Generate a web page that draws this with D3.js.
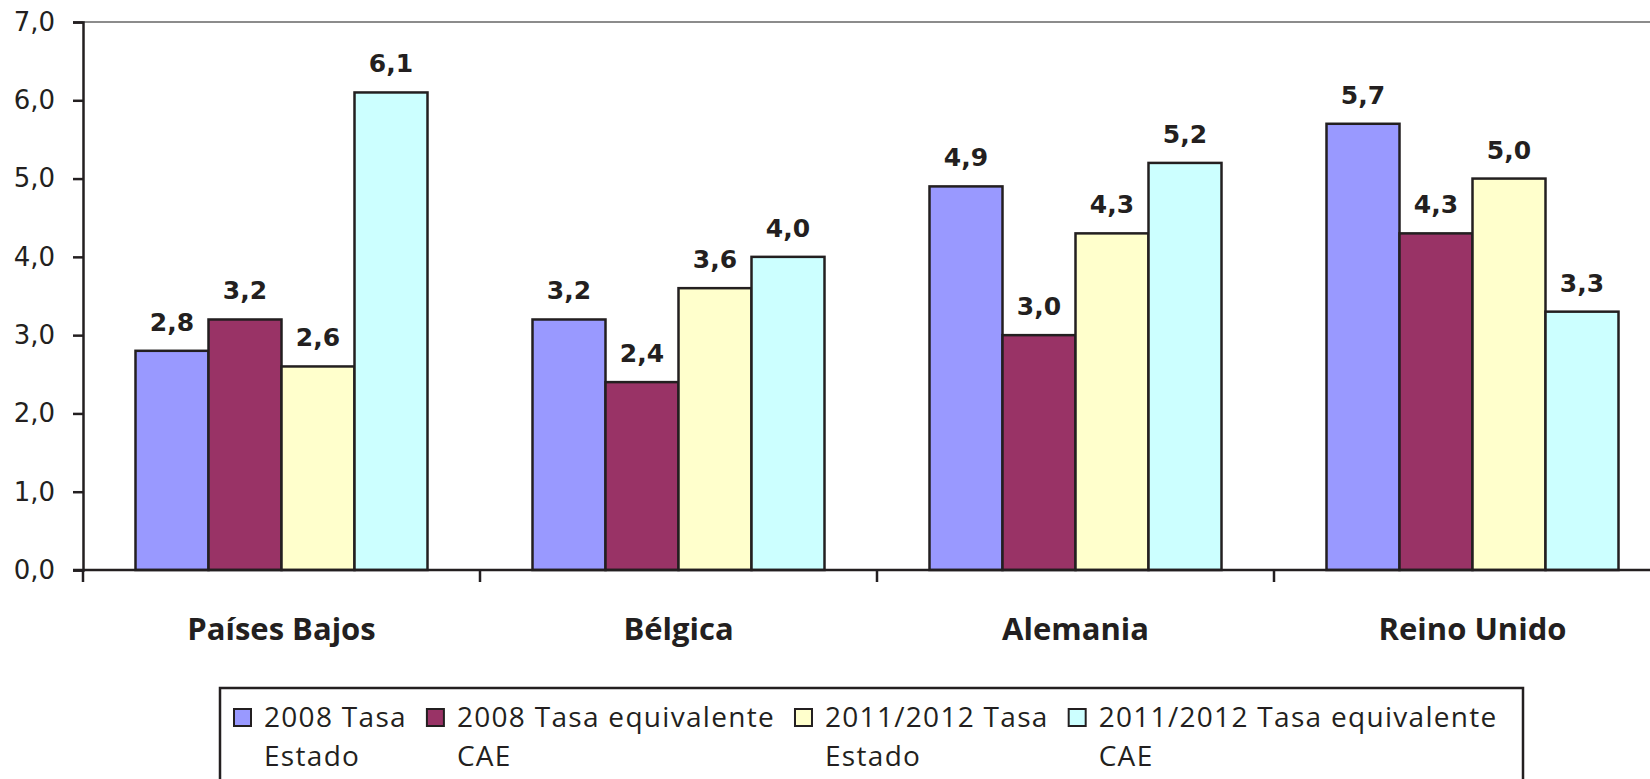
<!DOCTYPE html>
<html>
<head>
    <meta charset="UTF-8">
    <title>Tasas por país</title>
    <script src="https://d3js.org/d3.v7.min.js"></script>
    <style>
      body { margin: 0; background: #fff; }
    </style>
</head>
<body>
    <svg id="chart"></svg>

    <script>

    // data
    const countries = ["Países Bajos", "Bélgica", "Alemania", "Reino Unido"];
    const seriesNames = ["2008 Tasa Estado", "2008 Tasa equivalente CAE",
                         "2011/2012 Tasa Estado", "2011/2012 Tasa equivalente CAE"];
    const tasa2008Estado = [2.8, 3.2, 4.9, 5.7];
    const tasa2008CAE    = [3.2, 2.4, 3.0, 4.3];
    const tasa2011Estado = [2.6, 3.6, 4.3, 5.0];
    const tasa2011CAE    = [6.1, 4.0, 5.2, 3.3];
    const yTicks = [0, 1, 2, 3, 4, 5, 6, 7];

    const seriesValues = [tasa2008Estado, tasa2008CAE, tasa2011Estado, tasa2011CAE];
    const colors = ["#9999ff", "#993366", "#ffffcc", "#ccffff"];
    const ink = "#231f20";

    const width = 1650, height = 779;
    const plot = {left: 83, top: 22, bottom: 570, right: 1671}; // last category runs off the page

    const svg = d3.select("#chart")
      .attr("width", width)
      .attr("height", height);

    const fmt = v => d3.format(".1f")(v).replace(".", ",");

    const x = d3.scaleBand()
      .domain(countries)
      .range([plot.left, plot.right]);

    const xInner = d3.scaleBand()
      .domain(d3.range(seriesNames.length))
      .range([52.5, x.bandwidth() - 52.5]);

    const y = d3.scaleLinear()
      .domain([0, 7])
      .range([plot.bottom, plot.top]);

    // top border of the plot area (grey)
    svg.append("line")
      .attr("x1", plot.left).attr("x2", width)
      .attr("y1", y(7)).attr("y2", y(7))
      .attr("stroke", "#8c8c8c").attr("stroke-width", 2);

    const rows = [];
    countries.forEach((c, i) => {
      seriesValues.forEach((vals, s) => rows.push({country: c, s: s, v: vals[i]}));
    });

    svg.selectAll(".bar")
      .data(rows)
      .enter()
      .append("rect")
      .attr("class", "bar")
      .attr("x", d => x(d.country) + xInner(d.s))
      .attr("width", xInner.bandwidth())
      .attr("y", d => y(d.v))
      .attr("height", d => y(0) - y(d.v))
      .attr("fill", d => colors[d.s])
      .attr("stroke", ink)
      .attr("stroke-width", 2.5);

    svg.selectAll(".val")
      .data(rows)
      .enter()
      .append("text")
      .attr("class", "val")
      .attr("x", d => x(d.country) + xInner(d.s) + xInner.bandwidth() / 2)
      .attr("y", d => y(d.v) - 20)
      .attr("text-anchor", "middle")
      .attr("font-family", "DejaVu Sans")
      .attr("font-weight", "bold")
      .attr("font-size", "25px")
      .attr("fill", ink)
      .text(d => fmt(d.v));

    // y axis
    const yAxis = svg.append("g")
      .attr("transform", `translate(${plot.left},0)`)
      .call(d3.axisLeft(y).tickValues(yTicks).tickFormat(fmt).tickSize(10).tickPadding(18));
    yAxis.select(".domain").attr("stroke", ink).attr("stroke-width", 2.5);
    yAxis.selectAll(".tick line").attr("stroke", ink).attr("stroke-width", 2.5);
    yAxis.selectAll(".tick text")
      .attr("font-family", "DejaVu Sans")
      .attr("font-size", "26px")
      .attr("fill", ink);

    // x axis: baseline plus ticks between categories
    svg.append("line")
      .attr("x1", plot.left - 10).attr("x2", width)
      .attr("y1", y(0)).attr("y2", y(0))
      .attr("stroke", ink).attr("stroke-width", 2.5);

    svg.selectAll(".xtick")
      .data(countries)
      .enter()
      .append("line")
      .attr("class", "xtick")
      .attr("x1", d => x(d)).attr("x2", d => x(d))
      .attr("y1", y(0)).attr("y2", y(0) + 12)
      .attr("stroke", ink).attr("stroke-width", 2.5);

    svg.selectAll(".cat")
      .data(countries)
      .enter()
      .append("text")
      .attr("class", "cat")
      .attr("x", d => x(d) + x.bandwidth() / 2)
      .attr("y", 640)
      .attr("text-anchor", "middle")
      .attr("font-family", "Open Sans")
      .attr("font-weight", "bold")
      .attr("font-size", "31px")
      .attr("fill", ink)
      .text(d => d);

    // legend
    const legend = svg.append("g");
    legend.append("rect")
      .attr("x", 220).attr("y", 688)
      .attr("width", 1303).attr("height", 120)
      .attr("fill", "#fff")
      .attr("stroke", ink).attr("stroke-width", 2.5);

    let lx = 234;
    seriesNames.forEach((name, s) => {
      const words = name.split(" ");
      const line2 = words.pop();
      const item = legend.append("g");
      item.append("rect")
        .attr("x", lx).attr("y", 709)
        .attr("width", 17).attr("height", 17)
        .attr("fill", colors[s])
        .attr("stroke", ink).attr("stroke-width", 2);
      const t = item.append("text")
        .attr("font-family", "Open Sans")
        .attr("font-size", "28px")
        .attr("letter-spacing", "1.3px")
        .attr("fill", ink);
      t.append("tspan").attr("x", lx + 30).attr("y", 727).text(words.join(" "));
      t.append("tspan").attr("x", lx + 30).attr("y", 766).text(line2);
      const w = t.node().getBBox().width;
      lx += 30 + w + 20;
    });

    </script>
</body>
</html>
